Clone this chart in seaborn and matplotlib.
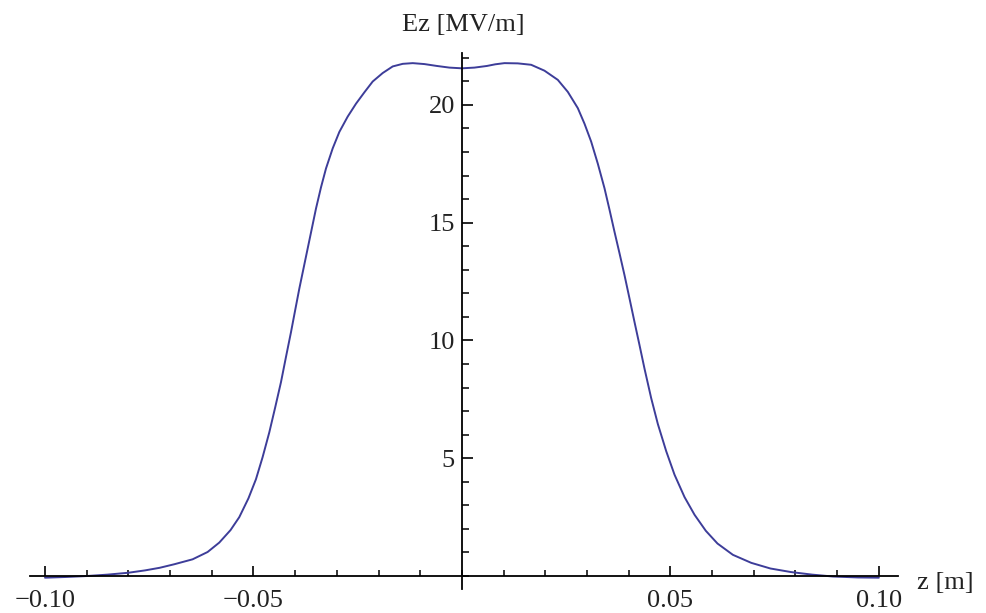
import matplotlib
matplotlib.use("Agg")
import matplotlib.pyplot as plt
import seaborn as sns
import pandas as pd
from matplotlib.ticker import MultipleLocator, FixedLocator, FixedFormatter

# Data
z_m = [-0.100, -0.095, -0.090, -0.085, -0.080, -0.0760, -0.0725, -0.0690,
       -0.0646, -0.0610, -0.0582, -0.0555, -0.0534, -0.0512, -0.0494, -0.0478,
       -0.0462, -0.0448, -0.0434, -0.0422, -0.0410, -0.0400, -0.0390, -0.0370,
       -0.0350, -0.0338, -0.0326, -0.0310, -0.0294, -0.0274, -0.0254, -0.0234,
       -0.0214, -0.0190, -0.0166, -0.0142, -0.0118, -0.0090, -0.0060, -0.0030,
       0.0, 0.0030, 0.0060, 0.0080, 0.0102, 0.0134, 0.0166, 0.0198, 0.0230,
       0.0254, 0.0278, 0.0294, 0.0310, 0.0326, 0.0342, 0.0354, 0.0366, 0.0378,
       0.0390, 0.0402, 0.0414, 0.0426, 0.0438, 0.0454, 0.0470, 0.0490, 0.0510,
       0.0534, 0.0558, 0.0585, 0.0613, 0.0650, 0.0694, 0.0740, 0.0789, 0.0840,
       0.0890, 0.0950, 0.1000]
ez_mv = [-0.07, -0.04, 0.00, 0.06, 0.14, 0.24, 0.35, 0.50,
         0.71, 1.02, 1.42, 1.95, 2.50, 3.30, 4.11, 5.05,
         6.10, 7.15, 8.23, 9.30, 10.35, 11.28, 12.20, 13.90,
         15.60, 16.50, 17.30, 18.15, 18.85, 19.50, 20.05, 20.53,
         20.99, 21.35, 21.63, 21.74, 21.77, 21.73, 21.65, 21.58,
         21.55, 21.58, 21.65, 21.72, 21.77, 21.76, 21.70, 21.45, 21.06,
         20.55, 19.86, 19.20, 18.44, 17.50, 16.46, 15.55, 14.61, 13.70,
         12.77, 11.78, 10.78, 9.80, 8.80, 7.55, 6.45, 5.30, 4.30,
         3.35, 2.60, 1.92, 1.38, 0.90, 0.56, 0.32, 0.17, 0.06,
         -0.02, -0.06, -0.07]

x_ticks = [-0.10, -0.05, 0.05, 0.10]
x_tick_labels = ["\u22120.10", "\u22120.05", "0.05", "0.10"]
y_ticks = [5, 10, 15, 20]
y_tick_labels = ["5", "10", "15", "20"]

df = pd.DataFrame({"z": z_m, "Ez": ez_mv})

sns.set_style("white")
plt.rcParams["font.family"] = ["Liberation Serif", "DejaVu Serif"]

W, H = 987, 613
fig = plt.figure(figsize=(W / 100, H / 100), dpi=100)
ax = fig.add_axes([30 / W, (H - 589) / H, 868 / W, 536 / H])

sns.lineplot(data=df, x="z", y="Ez", ax=ax, color=(0.24, 0.24, 0.6),
             linewidth=1.4, sort=False)

ax.set_xlim(-0.1036, 0.1046)
ax.set_ylim(-0.55, 22.2)

for s in ["top", "right"]:
    ax.spines[s].set_visible(False)
ax.spines["left"].set_position(("data", 0))
ax.spines["bottom"].set_position(("data", 0))
for s in ["left", "bottom"]:
    ax.spines[s].set_linewidth(1.3)
    ax.spines[s].set_color("black")

ax.xaxis.set_major_locator(FixedLocator(x_ticks))
ax.xaxis.set_major_formatter(FixedFormatter(x_tick_labels))
ax.xaxis.set_minor_locator(MultipleLocator(0.01))
ax.yaxis.set_major_locator(FixedLocator(y_ticks))
ax.yaxis.set_major_formatter(FixedFormatter(y_tick_labels))
ax.yaxis.set_minor_locator(MultipleLocator(1))

ax.tick_params(axis="x", which="both", bottom=True, top=False)
ax.tick_params(axis="y", which="both", left=True, right=False)
ax.tick_params(axis="x", which="major", direction="in", length=7, width=1.2,
               pad=10, labelsize=19, colors="black", labelcolor="#222222")
ax.tick_params(axis="x", which="minor", direction="in", length=4, width=1.1,
               colors="black")
ax.tick_params(axis="y", which="major", direction="in", length=8, width=1.2,
               pad=5, labelsize=19, colors="black", labelcolor="#222222")
ax.tick_params(axis="y", which="minor", direction="in", length=5, width=1.1,
               colors="black")

ax.set_xlabel("")
ax.set_ylabel("")
ax.grid(False)

fig.text(463 / W, 1 - 25 / H, "Ez [MV/m]", ha="center", va="center",
         fontsize=19, color="#222222")
fig.text(945 / W, 1 - 583 / H, "z [m]", ha="center", va="center",
         fontsize=19, color="#222222")

fig.savefig("out.png", dpi=100)
